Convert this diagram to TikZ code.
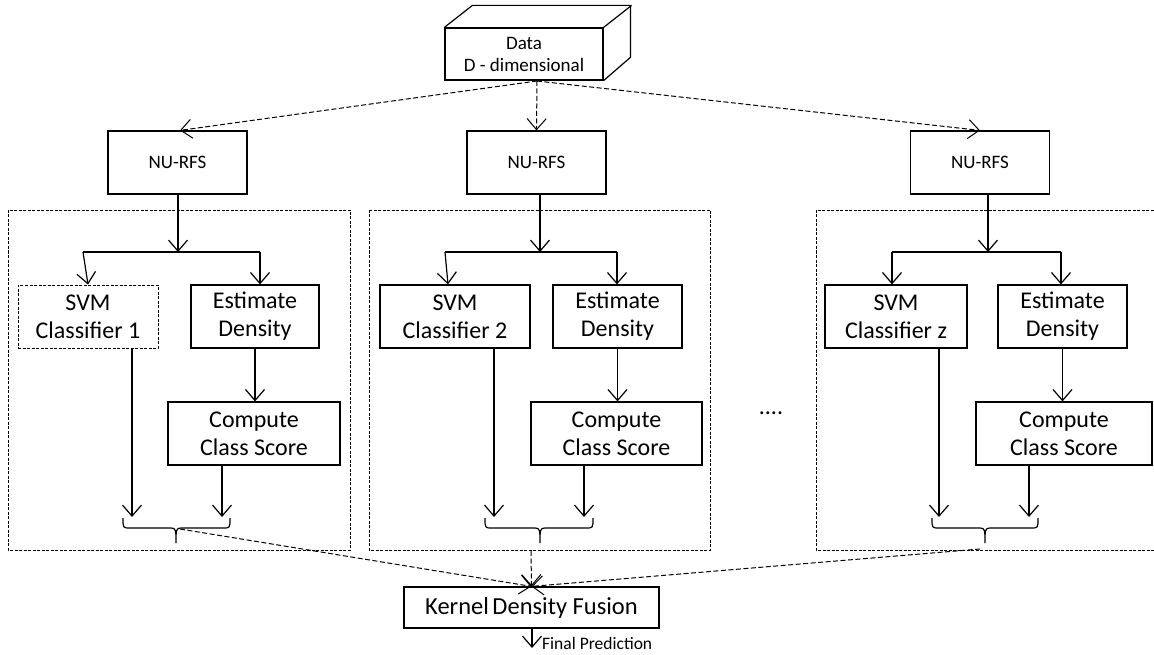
\documentclass[tikz,border=0pt]{standalone}
\usepackage{fontspec}
\setmainfont{Carlito}
\usetikzlibrary{arrows.meta,calc}
\newcommand\drawbrace[4]{% left x, right x, tip x, top y
  \draw[ln] (#1,#4) .. controls (#1,#4+10) and (#1,#4+10) .. (#1+7,#4+10) -- (#3-5,#4+10)
    .. controls (#3,#4+10) and (#3,#4+12) .. (#3,#4+25)
    .. controls (#3,#4+12) and (#3,#4+10) .. (#3+5,#4+10) -- (#2-7,#4+10)
    .. controls (#2,#4+10) and (#2,#4+10) .. (#2,#4);}
\begin{document}
\begin{tikzpicture}[x=1pt,y=-1pt,
  ln/.style={line width=1.2pt,black},
  box/.style={draw,line width=1.2pt,inner sep=0pt,align=center,minimum height=63pt,font=\fontsize{24}{28}\selectfont},
  nubox/.style={draw,line width=1.2pt,inner sep=0pt,align=center,minimum width=139pt,minimum height=63pt,font=\fontsize{19}{22}\selectfont},
  panel/.style={draw,line width=0.9pt,dash pattern=on 3pt off 1.5pt},
  arr/.style={ln,-{Straight Barb[length=11pt,width=19pt]}},
  darr/.style={line width=1pt,dash pattern=on 5pt off 2.5pt,-{Straight Barb[length=11pt,width=19pt,line width=1pt]}},
  dln/.style={line width=1pt,dash pattern=on 5pt off 2.5pt}]
\useasboundingbox (0,0) rectangle (1154,655);

% data cube
\node[draw,line width=1.2pt,inner sep=0pt,minimum width=158pt,minimum height=52pt,align=center,
  font=\fontsize{19}{22}\selectfont] (data) at (524,54) {Data\\D - dimensional};
\draw[ln,line join=round] (data.north west) -- ++(28,-22) -- ++(158,0) -- ++(0,52) -- (data.south east);
\draw[ln] (data.north east) -- ++(28,-22);
\coordinate (dsrc) at (537,81);

% NU-RFS
\node[nubox] (nu1) at (177.5,162.5) {NU-RFS};
\node[nubox] (nu2) at (536.5,162.5) {NU-RFS};
\node[nubox] (nu3) at (980,162.5) {NU-RFS};
\draw[darr] (dsrc) -- ($(nu1.north)+(2.5,0)$);
\draw[darr] (dsrc) -- (nu2.north);
\draw[darr] (dsrc) -- (nu3.north);

% panels
\draw[panel] (8,210) rectangle (350,550);
\draw[panel] (369,210) rectangle (710,550);
\draw[panel] (816,210) rectangle (1160,550);

% panel 1
\node[box,dash pattern=on 3pt off 1.5pt,line width=0.9pt,minimum width=140pt] (svm1) at (88,316.5) {SVM\\Classifier 1};
\node[box,minimum width=128pt] (est1) at (255,316.5) {Estimate\\Density};
\node[box,minimum width=172pt] (cmp1) at (254,433.5) {Compute\\Class Score};
\coordinate (j1) at (178,252);
\coordinate (j1l) at (83,252);
\coordinate (j1r) at (260,252);
\draw[arr] (nu1.south -| j1) -- (j1);
\draw[ln] (j1l) -- (j1r);
\draw[arr] (j1l) -- (svm1.north);
\draw[arr] (j1r) -- (est1.north -| j1r);
\draw[arr] (est1.south) -- (cmp1.north -| est1.south);
\coordinate (t1a) at (132,517);
\coordinate (t1b) at (222,517);
\draw[arr] (svm1.south -| t1a) -- (t1a);
\draw[arr] (cmp1.south -| t1b) -- (t1b);
\drawbrace{123}{230}{176}{518}
\coordinate (s1) at (180,529);

% panel 2
\node[box,minimum width=150pt] (svm2) at (455,316.5) {SVM\\Classifier 2};
\node[box,minimum width=129pt] (est2) at (617.5,316.5) {Estimate\\Density};
\node[box,minimum width=171pt] (cmp2) at (616.5,433.5) {Compute\\Class Score};
\coordinate (j2) at (540,252);
\coordinate (j2l) at (445,252);
\coordinate (j2r) at (617,252);
\draw[arr] (nu2.south -| j2) -- (j2);
\draw[ln] (j2l) -- (j2r);
\draw[arr] (j2l) -- ($(svm2.north)+(-7,0)$);
\draw[arr] (j2r) -- (est2.north -| j2r);
\draw[arr] (est2.south) -- (cmp2.north -| est2.south);
\coordinate (t2a) at (494,517);
\coordinate (t2b) at (584,517);
\draw[arr] (svm2.south -| t2a) -- (t2a);
\draw[arr] (cmp2.south -| t2b) -- (t2b);
\drawbrace{485}{593}{540}{518}
\coordinate (s2) at (531,551);

% panel 3
\node[box,minimum width=142pt] (svm3) at (896,316.5) {SVM\\Classifier z};
\node[box,minimum width=129pt] (est3) at (1062.5,316.5) {Estimate\\Density};
\node[box,minimum width=176pt] (cmp3) at (1064,433.5) {Compute\\Class Score};
\coordinate (j3) at (988,252);
\coordinate (j3l) at (892,252);
\coordinate (j3r) at (1061,252);
\draw[arr] (nu3.south -| j3) -- (j3);
\draw[ln] (j3l) -- (j3r);
\draw[arr] (j3l) -- (svm3.north -| j3l);
\draw[arr] (j3r) -- (est3.north -| j3r);
\draw[arr] (est3.south) -- (cmp3.north -| est3.south);
\coordinate (t3a) at (939,517);
\coordinate (t3b) at (1029,517);
\draw[arr] (svm3.south -| t3a) -- (t3a);
\draw[arr] (cmp3.south -| t3b) -- (t3b);
\drawbrace{932}{1038}{985}{518}
\coordinate (s3) at (980,549);

% dots
\node[font=\fontsize{24}{28}\selectfont] (dots) at (771,413) {....};

% fusion
\node[draw,line width=1.2pt,inner sep=0pt,minimum width=255pt,minimum height=41pt,
  font=\fontsize{24.5}{28}\selectfont] (kdf) at (531.5,607.5) {Kernel\hspace{-2pt} Density Fusion};
\draw[darr] (s1) -- (kdf.north);
\draw[darr] (s2) -- (kdf.north);
\draw[darr] (s3) -- (kdf.north);
\coordinate (fp) at (532,648);
\draw[arr] (kdf.south -| fp) -- (fp);
\node[anchor=west,inner sep=0pt,font=\fontsize{17.5}{20}\selectfont] (fpt) at (542,643) {Final Prediction};
\end{tikzpicture}
\end{document}
